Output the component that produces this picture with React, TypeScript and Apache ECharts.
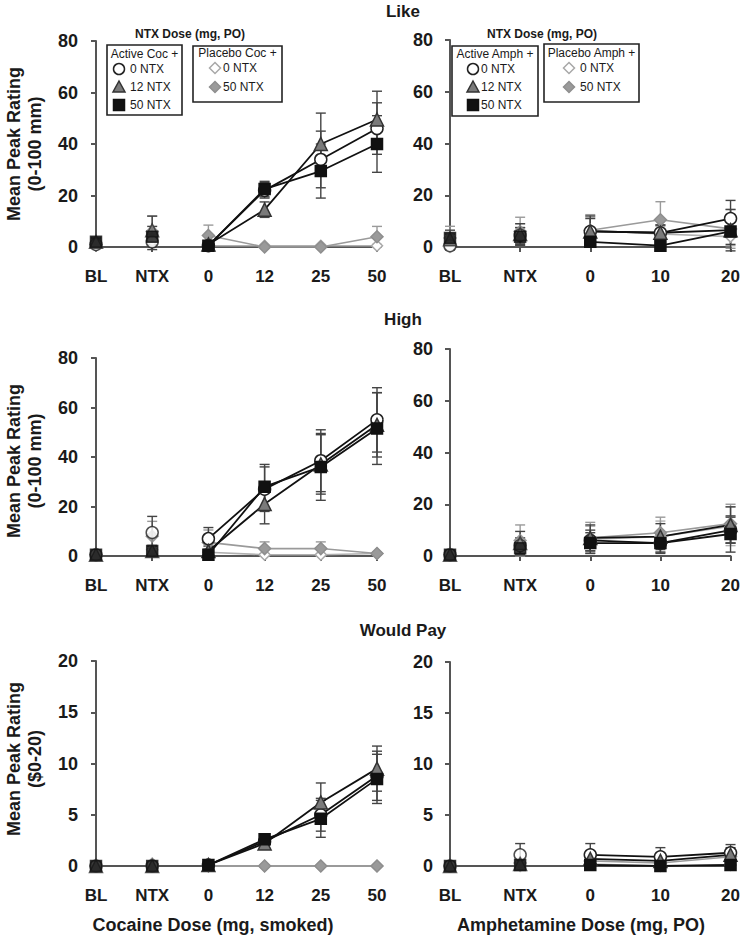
import React, { useEffect, useRef } from "react";
import * as echarts from "echarts";

const FONT = "'Liberation Sans', Arial, Helvetica, sans-serif";

const CATS_COC = ["BL", "NTX", "0", "12", "25", "50"];
const CATS_AMPH = ["BL", "NTX", "0", "10", "20"];

const GROUP_NAMES = ["Active 0 NTX", "Active 12 NTX", "Active 50 NTX", "Placebo 0 NTX", "Placebo 50 NTX"];

// ---- Like: cocaine ----
const LIKE_COC_A0 = [1, 2, 0.5, 22, 34, 46];
const LIKE_COC_A0_SE = [1, 3, 1, 3, 11, 10];
const LIKE_COC_A12 = [2, 6.5, 1, 14.5, 40, 49.5];
const LIKE_COC_A12_SE = [1.5, 5.5, 1, 3, 12, 11];
const LIKE_COC_A50 = [2, 4, 0.5, 22.5, 29.5, 40];
const LIKE_COC_A50_SE = [1.5, 4, 1, 3, 10.5, 11];
const LIKE_COC_P0 = [0.5, 2.5, 0.5, 0.5, 0.5, 0.5];
const LIKE_COC_P0_SE = [0.5, 2, 0.5, 0, 0, 0.5];
const LIKE_COC_P50 = [1, 6, 4.5, 0, 0, 4];
const LIKE_COC_P50_SE = [1, 6, 4, 0, 0, 4];

// ---- Like: amphetamine ----
const LIKE_AMPH_A0 = [0.5, 4.5, 6, 5.5, 11];
const LIKE_AMPH_A0_SE = [1.5, 3, 6, 3, 7];
const LIKE_AMPH_A12 = [3, 5, 6, 5.5, 6.5];
const LIKE_AMPH_A12_SE = [2, 4, 5, 3, 8];
const LIKE_AMPH_A50 = [3.5, 4, 2, 0.5, 6];
const LIKE_AMPH_A50_SE = [3, 3.5, 2, 1, 5];
const LIKE_AMPH_P0 = [0, 5, 6.5, 5, 4];
const LIKE_AMPH_P0_SE = [1, 4, 5, 3, 3.5];
const LIKE_AMPH_P50 = [3.5, 6, 6.5, 10.5, 7];
const LIKE_AMPH_P50_SE = [4.5, 5.5, 6, 7, 7.5];

// ---- High: cocaine ----
const HIGH_COC_A0 = [0.5, 9.5, 7, 27, 38.5, 55];
const HIGH_COC_A0_SE = [0.5, 6.5, 4.5, 9, 12.5, 13];
const HIGH_COC_A12 = [0.5, 2, 2, 21, 37, 53];
const HIGH_COC_A12_SE = [0.5, 2, 2, 8, 12, 13];
const HIGH_COC_A50 = [0.5, 2, 0.5, 28, 36, 51.5];
const HIGH_COC_A50_SE = [0.5, 2, 0.5, 9, 13.5, 14.5];
const HIGH_COC_P0 = [0.5, 2.5, 1.5, 0.5, 0.5, 1];
const HIGH_COC_P0_SE = [0.5, 2, 1.5, 0.5, 0.5, 0.5];
const HIGH_COC_P50 = [0.5, 8, 5.5, 3, 3, 1];
const HIGH_COC_P50_SE = [0.5, 6, 5, 2.7, 2.7, 0.5];

// ---- High: amphetamine ----
const HIGH_AMPH_A0 = [0.5, 4, 6, 5, 10];
const HIGH_AMPH_A0_SE = [0.5, 3, 4, 4, 5];
const HIGH_AMPH_A12 = [0.5, 5, 7, 7.5, 12];
const HIGH_AMPH_A12_SE = [0.5, 4.5, 5, 5, 7];
const HIGH_AMPH_A50 = [0.5, 3, 5, 5, 8.5];
const HIGH_AMPH_A50_SE = [0.5, 2.5, 4, 3.5, 7];
const HIGH_AMPH_P0 = [0.5, 4, 6.5, 7.5, 11.5];
const HIGH_AMPH_P0_SE = [0.5, 3, 5, 6, 7.5];
const HIGH_AMPH_P50 = [0.5, 6, 7, 9, 12.5];
const HIGH_AMPH_P50_SE = [0.5, 6, 6, 6, 7.5];

// ---- Would Pay: cocaine ----
const PAY_COC_A0 = [0, 0, 0.1, 2.4, 5, 8.8];
const PAY_COC_A0_SE = [0, 0, 0.1, 0.4, 1.6, 2.4];
const PAY_COC_A12 = [0, 0, 0.1, 2.2, 6.2, 9.5];
const PAY_COC_A12_SE = [0, 0, 0.1, 0.4, 1.9, 2.2];
const PAY_COC_A50 = [0, 0, 0.1, 2.6, 4.6, 8.5];
const PAY_COC_A50_SE = [0, 0, 0.1, 0.4, 1.8, 2.4];
const PAY_COC_P0 = [0, 0, 0, 0, 0, 0];
const PAY_COC_P0_SE = [0, 0, 0, 0, 0, 0];
const PAY_COC_P50 = [0, 0.2, 0, 0, 0, 0];
const PAY_COC_P50_SE = [0, 0.1, 0, 0, 0, 0];

// ---- Would Pay: amphetamine ----
const PAY_AMPH_A0 = [0, 1.1, 1.1, 0.9, 1.3];
const PAY_AMPH_A0_SE = [0, 1.1, 1.1, 0.9, 0.8];
const PAY_AMPH_A12 = [0, 0.2, 0.7, 0.5, 1.1];
const PAY_AMPH_A12_SE = [0, 0.2, 0.6, 0.4, 0.7];
const PAY_AMPH_A50 = [0, 0.1, 0.1, 0, 0.1];
const PAY_AMPH_A50_SE = [0, 0.1, 0.1, 0, 0.1];
const PAY_AMPH_P0 = [0, 0, 0.2, 0, 0.1];
const PAY_AMPH_P0_SE = [0, 0, 0.1, 0, 0.1];
const PAY_AMPH_P50 = [0, 0.3, 0.5, 0.3, 0.9];
const PAY_AMPH_P50_SE = [0, 0.3, 0.4, 0.3, 0.6];

const Y_TICKS_RATING = [0, 80, 20];
const Y_TICKS_PAY = [0, 20, 5];

const STYLES = [
  { symbol: "circle", size: 12, fill: "#ffffff", stroke: "#222222", line: "#111111", err: "#444444", lw: 1.8 },
  { symbol: "triangle", size: 13, fill: "#7a7a7a", stroke: "#333333", line: "#111111", err: "#444444", lw: 1.8 },
  { symbol: "rect", size: 11, fill: "#111111", stroke: "#111111", line: "#111111", err: "#444444", lw: 1.8 },
  { symbol: "diamond", size: 11, fill: "#ffffff", stroke: "#a8a8a8", line: "#b0b0b0", err: "#b0b0b0", lw: 1.6 },
  { symbol: "diamond", size: 12, fill: "#9a9a9a", stroke: "#8e8e8e", line: "#9a9a9a", err: "#9a9a9a", lw: 1.6 },
];

const PANELS = [
  { cats: CATS_COC, y: Y_TICKS_RATING, box: [96, 41, 281, 206], off: 11,
    vals: [LIKE_COC_A0, LIKE_COC_A12, LIKE_COC_A50, LIKE_COC_P0, LIKE_COC_P50],
    se: [LIKE_COC_A0_SE, LIKE_COC_A12_SE, LIKE_COC_A50_SE, LIKE_COC_P0_SE, LIKE_COC_P50_SE] },
  { cats: CATS_AMPH, y: Y_TICKS_RATING, box: [450, 40, 282, 207], off: 10,
    vals: [LIKE_AMPH_A0, LIKE_AMPH_A12, LIKE_AMPH_A50, LIKE_AMPH_P0, LIKE_AMPH_P50],
    se: [LIKE_AMPH_A0_SE, LIKE_AMPH_A12_SE, LIKE_AMPH_A50_SE, LIKE_AMPH_P0_SE, LIKE_AMPH_P50_SE] },
  { cats: CATS_COC, y: Y_TICKS_RATING, box: [96, 358, 281, 198], off: 11,
    vals: [HIGH_COC_A0, HIGH_COC_A12, HIGH_COC_A50, HIGH_COC_P0, HIGH_COC_P50],
    se: [HIGH_COC_A0_SE, HIGH_COC_A12_SE, HIGH_COC_A50_SE, HIGH_COC_P0_SE, HIGH_COC_P50_SE] },
  { cats: CATS_AMPH, y: Y_TICKS_RATING, box: [450, 349, 282, 207], off: 10,
    vals: [HIGH_AMPH_A0, HIGH_AMPH_A12, HIGH_AMPH_A50, HIGH_AMPH_P0, HIGH_AMPH_P50],
    se: [HIGH_AMPH_A0_SE, HIGH_AMPH_A12_SE, HIGH_AMPH_A50_SE, HIGH_AMPH_P0_SE, HIGH_AMPH_P50_SE] },
  { cats: CATS_COC, y: Y_TICKS_PAY, box: [96, 661, 281, 205], off: 11,
    vals: [PAY_COC_A0, PAY_COC_A12, PAY_COC_A50, PAY_COC_P0, PAY_COC_P50],
    se: [PAY_COC_A0_SE, PAY_COC_A12_SE, PAY_COC_A50_SE, PAY_COC_P0_SE, PAY_COC_P50_SE] },
  { cats: CATS_AMPH, y: Y_TICKS_PAY, box: [450, 662, 282, 204], off: 10,
    vals: [PAY_AMPH_A0, PAY_AMPH_A12, PAY_AMPH_A50, PAY_AMPH_P0, PAY_AMPH_P50],
    se: [PAY_AMPH_A0_SE, PAY_AMPH_A12_SE, PAY_AMPH_A50_SE, PAY_AMPH_P0_SE, PAY_AMPH_P50_SE] },
];

const DRAW_ORDER = [3, 4, 0, 1, 2];

function errRender(color: string) {
  return (params: any, api: any) => {
    const x = api.value(0);
    const y = api.value(1);
    const e = api.value(2);
    if (!e) return { type: "group", children: [] };
    const top = api.coord([x, y + e]);
    const bot = api.coord([x, y - e]);
    const hw = 5;
    const st = { stroke: color, lineWidth: 1.4 };
    return {
      type: "group",
      children: [
        { type: "line", shape: { x1: top[0], y1: top[1], x2: bot[0], y2: bot[1] }, style: st },
        { type: "line", shape: { x1: top[0] - hw, y1: top[1], x2: top[0] + hw, y2: top[1] }, style: st },
        { type: "line", shape: { x1: bot[0] - hw, y1: bot[1], x2: bot[0] + hw, y2: bot[1] }, style: st },
      ],
    };
  };
}

function buildOption() {
  const grid: any[] = [];
  const xAxis: any[] = [];
  const yAxis: any[] = [];
  const series: any[] = [];
  const axisLine = { show: true, lineStyle: { color: "#555555", width: 2 } };
  PANELS.forEach((p, i) => {
    const [l, t, w, h] = p.box;
    grid.push({ left: l, top: t, width: w, height: h, containLabel: false });
    const cats = p.cats;
    xAxis.push({
      type: "value", gridIndex: i, min: 0, max: cats.length - 1, interval: 1, offset: 10,
      axisLine, splitLine: { show: false },
      axisTick: { show: true, length: 5, lineStyle: { color: "#555555", width: 2 } },
      axisLabel: { formatter: (v: number) => cats[Math.round(v)] ?? "", fontFamily: FONT, fontWeight: "bold", fontSize: 17, color: "#1a1a1a", margin: 11 },
    });
    yAxis.push({
      type: "value", gridIndex: i, min: p.y[0], max: p.y[1], interval: p.y[2], offset: p.off,
      axisLine, splitLine: { show: false },
      axisTick: { show: true, length: 5, lineStyle: { color: "#555555", width: 2 } },
      axisLabel: { fontFamily: FONT, fontWeight: "bold", fontSize: 18, color: "#1a1a1a", margin: 7 },
    });
    DRAW_ORDER.forEach((g) => {
      const s = STYLES[g];
      series.push({
        type: "custom", name: GROUP_NAMES[g] + " SE", xAxisIndex: i, yAxisIndex: i, z: 1, clip: false,
        renderItem: errRender(s.err), encode: { x: 0, y: 1 },
        data: p.vals[g].map((v, k) => [k, v, p.se[g][k]]),
      });
    });
    DRAW_ORDER.forEach((g) => {
      const s = STYLES[g];
      const itemStyle = { color: s.fill, borderColor: s.stroke, borderWidth: 1.5 };
      series.push({
        type: "scatter", name: GROUP_NAMES[g], xAxisIndex: i, yAxisIndex: i, z: 3, clip: false,
        symbol: s.symbol, symbolSize: s.size, itemStyle,
        data: p.vals[g].slice(0, 2).map((v, k) => [k, v]),
      });
      series.push({
        type: "line", name: GROUP_NAMES[g], xAxisIndex: i, yAxisIndex: i, z: 3, clip: false,
        symbol: s.symbol, symbolSize: s.size, showSymbol: true, itemStyle,
        lineStyle: { color: s.line, width: s.lw },
        data: p.vals[g].slice(2).map((v, k) => [k + 2, v]),
      });
    });
  });

  const graphic: any[] = [];
  const txt = (x: number, y: number, text: string, size: number, weight: string, align = "center", extra: any = {}) => ({
    type: "text", x, y, ...extra,
    style: { text, fontSize: size, fontWeight: weight, fontFamily: FONT, fill: "#1a1a1a", align, verticalAlign: "middle" },
  });
  graphic.push(txt(403, 11, "Like", 17, "bold"));
  graphic.push(txt(403, 319, "High", 17, "bold"));
  graphic.push(txt(403, 630, "Would Pay", 17, "bold"));
  graphic.push(txt(213, 925, "Cocaine Dose (mg, smoked)", 18, "bold"));
  graphic.push(txt(581, 925, "Amphetamine Dose (mg, PO)", 18, "bold"));
  const yTitles = [
    [144, "(0-100 mm)"],
    [461, "(0-100 mm)"],
    [759, "($0-20)"],
  ];
  yTitles.forEach(([cy, sub]) => {
    graphic.push(txt(0, 0, "Mean Peak Rating", 18, "bold", "center", { x: 14, y: cy as number, rotation: Math.PI / 2 }));
    graphic.push(txt(0, 0, sub as string, 18, "bold", "center", { x: 35, y: cy as number, rotation: Math.PI / 2 }));
  });

  const marker = (g: number, x: number, y: number) => {
    const s = STYLES[g];
    const style = { fill: s.fill, stroke: s.stroke, lineWidth: 1.5 };
    if (s.symbol === "circle") return { type: "circle", shape: { cx: x, cy: y, r: 5.5 }, style };
    if (s.symbol === "triangle") return { type: "polygon", shape: { points: [[x, y - 6], [x + 6, y + 5], [x - 6, y + 5]] }, style };
    if (s.symbol === "rect") return { type: "rect", shape: { x: x - 5.5, y: y - 5.5, width: 11, height: 11 }, style };
    return { type: "polygon", shape: { points: [[x, y - 5.5], [x + 5.5, y], [x, y + 5.5], [x - 5.5, y]] }, style };
  };
  const legend = (cx: number, act: number[], actHead: string, mx: number, tx: number, plc: number[], plcHead: string, pmx: number, ptx: number) => {
    graphic.push(txt(cx, 34, "NTX Dose (mg, PO)", 12, "bold"));
    graphic.push({ type: "rect", shape: { x: act[0], y: act[1], width: act[2], height: act[3] }, style: { fill: "#fff", stroke: "#222", lineWidth: 1.6 }, z: 10 });
    graphic.push({ type: "rect", shape: { x: plc[0], y: plc[1], width: plc[2], height: plc[3] }, style: { fill: "#fff", stroke: "#222", lineWidth: 1.6 }, z: 10 });
    graphic.push({ ...txt(act[0] + act[2] / 2, 54, actHead, 12, "normal"), z: 11 });
    graphic.push({ ...txt(plc[0] + plc[2] / 2, 53, plcHead, 12, "normal"), z: 11 });
    const rows = [[0, 69, "0 NTX"], [1, 87, "12 NTX"], [2, 105, "50 NTX"]];
    rows.forEach(([g, y, t]) => {
      graphic.push({ ...marker(g as number, mx, y as number), z: 11 });
      graphic.push({ ...txt(tx, y as number, t as string, 12, "normal", "left"), z: 11 });
    });
    const prow = [[3, 68, "0 NTX"], [4, 87, "50 NTX"]];
    prow.forEach(([g, y, t]) => {
      graphic.push({ ...marker(g as number, pmx, y as number), z: 11 });
      graphic.push({ ...txt(ptx, y as number, t as string, 12, "normal", "left"), z: 11 });
    });
  };
  legend(190, [107, 45, 75, 70], "Active Coc +", 119, 130, [193, 46, 89, 56], "Placebo Coc +", 215, 223);
  legend(542, [452, 46, 86, 70], "Active Amph +", 473, 481, [544, 44, 95, 58], "Placebo Amph +", 569, 580);

  return { animation: false, backgroundColor: "#ffffff", grid, xAxis, yAxis, series, graphic };
}

export default function App() {
  const ref = useRef<HTMLDivElement>(null);
  useEffect(() => {
    if (!ref.current) return;
    const chart = echarts.init(ref.current, undefined, { renderer: "svg" });
    chart.setOption(buildOption() as any);
    return () => chart.dispose();
  }, []);
  return <div ref={ref} style={{ position: "fixed", left: 0, top: 0, width: 743, height: 936, background: "#fff" }} />;
}
